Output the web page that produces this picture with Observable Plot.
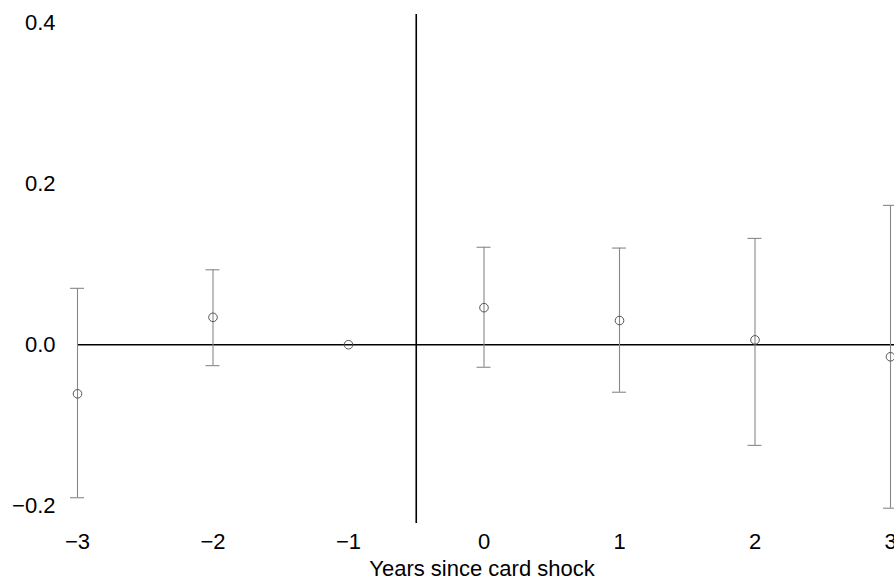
<!DOCTYPE html>
<html>
<head>
<meta charset="utf-8">
<script src="https://cdn.jsdelivr.net/npm/d3@7"></script>
<script src="https://cdn.jsdelivr.net/npm/@observablehq/plot@0.6"></script>
<style>
  html, body { margin: 0; padding: 0; background: #fff; }
  #chart svg { display: block; }
</style>
</head>
<body>
<div id="chart"></div>
<script>
// Data
const years = [-3, -2, -1, 0, 1, 2, 3];
const estimates = [-0.061, 0.034, 0.0, 0.046, 0.030, 0.006, -0.015];
const lower = [-0.190, -0.026, null, -0.028, -0.059, -0.125, -0.203];
const upper = [0.070, 0.093, null, 0.121, 0.120, 0.132, 0.173];
const xTicks = [-3, -2, -1, 0, 1, 2, 3];
const yTicks = [-0.2, 0.0, 0.2, 0.4];
const shockLine = [-0.5];
const zeroLine = [0];
const xLabel = "Years since card shock";

const data = years.map((x, i) => ({x, est: estimates[i], lo: lower[i], hi: upper[i]}));
const bars = data.filter(d => d.lo != null);

const chart = Plot.plot({
  width: 894,
  height: 579,
  marginLeft: 77,
  marginRight: 4,
  marginTop: 14,
  marginBottom: 56,
  style: {fontFamily: "'Liberation Sans', Arial, sans-serif", fontSize: "22px", color: "#000", background: "#fff"},
  x: {domain: [-3, 3], ticks: xTicks, tickSize: 0, tickPadding: 10, tickFormat: d3.format("d"), label: null},
  y: {domain: [-0.222, 0.41], ticks: yTicks, tickSize: 0, tickPadding: 22, tickFormat: d3.format(".1f"), label: null},
  marks: [
    Plot.ruleY(zeroLine, {x1: -3, x2: 3.03, stroke: "#000", strokeWidth: 1.6}),
    Plot.ruleX(shockLine, {stroke: "#000", strokeWidth: 1.6}),
    Plot.ruleX(bars, {x: "x", y1: "lo", y2: "hi", stroke: "#888", strokeWidth: 1.1}),
    Plot.ruleY(bars, {y: "lo", x1: "x", x2: "x", insetLeft: -7, insetRight: -7, stroke: "#888", strokeWidth: 1.1}),
    Plot.ruleY(bars, {y: "hi", x1: "x", x2: "x", insetLeft: -7, insetRight: -7, stroke: "#888", strokeWidth: 1.1}),
    Plot.dot(data, {x: "x", y: "est", r: 4.3, stroke: "#555", strokeWidth: 1, fill: "none"}),
    Plot.text([xLabel], {frameAnchor: "bottom", dy: 45, dx: -2, text: d => d, fontSize: 22, fill: "#000", lineAnchor: "middle"})
  ]
});
document.getElementById("chart").appendChild(chart);
</script>
</body>
</html>
